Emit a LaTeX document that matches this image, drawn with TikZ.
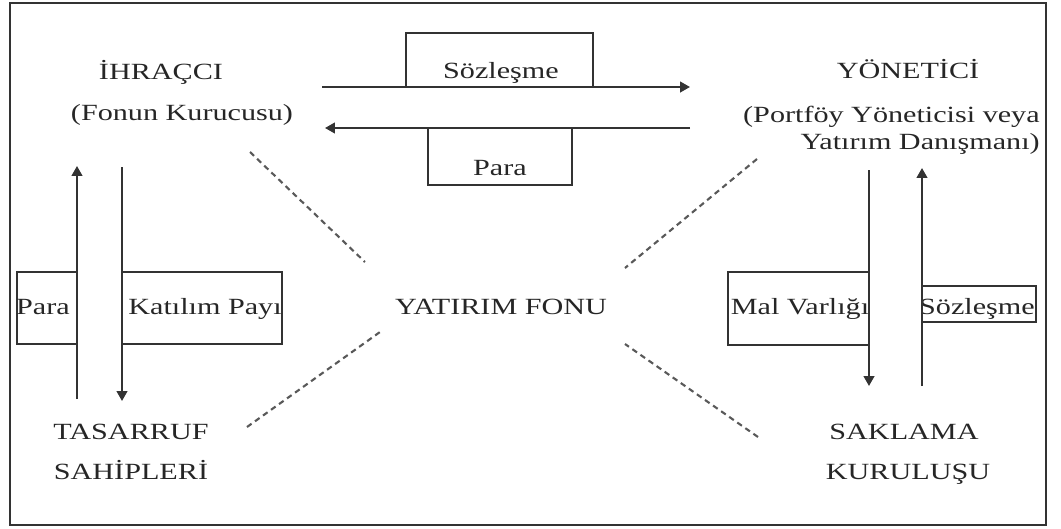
\documentclass[tikz,border=0pt]{standalone}
\usepackage{fontspec}
\setmainfont[FakeStretch=1.3]{Liberation Serif}
\usetikzlibrary{arrows.meta,positioning,calc}

\begin{document}
\begin{tikzpicture}[
    x=0.025cm, y=-0.025cm,
    every node/.style={
        font=\fontsize{16.5}{19.5}\selectfont,
        text=black!85,
        inner sep=0pt,
        anchor=base
    },
    flow/.style={draw=black!80, line width=1.5pt,
        -{Triangle[length=7pt,width=7.5pt]}},
    tagbox/.style={draw=black!80, line width=1.5pt},
    link/.style={draw=black!65, line width=1.5pt, dash pattern=on 4pt off 3pt}
]

\useasboundingbox (0,0) rectangle (1061,528);
\draw[line width=1.5pt, black!80] (10,3) rectangle (1046,525);

% parties
\node (ihrac)   at (161,79)  {İHRAÇCI};
\node (kurucu)  at (182,120) {(Fonun Kurucusu)};
\node (yon)     at (908,78)  {YÖNETİCİ};
\node[anchor=base east] (portfoy) at (1040,122) {(Portföy Yöneticisi veya};
\node[anchor=base east] (danisman) at (1040,149) {Yatırım Danışmanı)};
\node (tasarruf) at (131,439) {TASARRUF};
\node (sahip)    at (131,479) {SAHİPLERİ};
\node (saklama)  at (904,439) {SAKLAMA};
\node (kurulus)  at (908,479) {KURULUŞU};
\node (fon)      at (501,314) {YATIRIM FONU};

% labels on the flows
\draw[tagbox] (406,87) |- (593,33) -- (593,87);
\node (sozTop) at (501,78) {Sözleşme};
\draw[tagbox] (428,128) |- (572,185) -- (572,128);
\node (paraTop) at (500,175) {Para};

\draw[tagbox] (17,272) rectangle (77,344);
\node (paraLeft) at (43,314) {Para};
\draw[tagbox] (122,272) rectangle (282,344);
\node (katilim) at (205,314) {Katılım Payı};

\draw[tagbox] (728,272) rectangle (869,345);
\node (malvar) at (800,314) {Mal Varlığı};
\draw[tagbox] (922,286) rectangle (1036,322);
\node (sozRight) at (977,314) {Sözleşme};

% flow ends
\coordinate (topA) at (322,87);
\coordinate (topB) at (690,87);
\coordinate (midA) at (690,128);
\coordinate (midB) at (325,128);
\coordinate (leftUpA) at (77,399);
\coordinate (leftUpB) at (77,166);
\coordinate (leftDnA) at (122,167);
\coordinate (leftDnB) at (122,401);
\coordinate (rightDnA) at (869,170);
\coordinate (rightDnB) at (869,386);
\coordinate (rightUpA) at (922,386);
\coordinate (rightUpB) at (922,168);

\draw[flow] (topA) -- (topB);
\draw[flow] (midA) -- (midB);
\draw[flow] (leftUpA) -- (leftUpB);
\draw[flow] (leftDnA) -- (leftDnB);
\draw[flow] (rightDnA) -- (rightDnB);
\draw[flow] (rightUpA) -- (rightUpB);

% ties to the fund
\coordinate (ihracTie) at (250,152);
\coordinate (fonNW) at (365,262);
\coordinate (yonTie) at (757,159);
\coordinate (fonNE) at (625,268);
\coordinate (tasTie) at (247,427);
\coordinate (fonSW) at (380,332);
\coordinate (sakTie) at (758,437);
\coordinate (fonSE) at (625,344);

\draw[link] (ihracTie) -- (fonNW);
\draw[link] (yonTie) -- (fonNE);
\draw[link] (tasTie) -- (fonSW);
\draw[link] (sakTie) -- (fonSE);

\end{tikzpicture}
\end{document}
